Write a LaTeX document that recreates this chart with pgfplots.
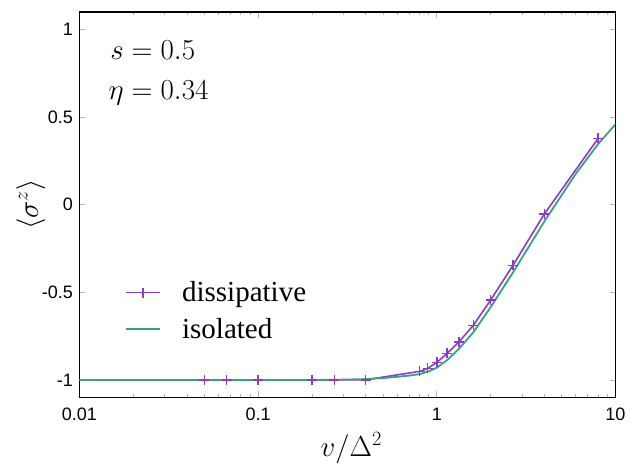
\documentclass[border=0pt]{standalone}
\usepackage{fix-cm}
\usepackage[no-math]{fontspec}
\setmainfont{Liberation Serif}
\newfontfamily\arialfont{Liberation Sans}
\usepackage{pgfplots}
\pgfplotsset{compat=1.18}
\definecolor{dissviolet}{HTML}{8A3CC8}
\definecolor{isogreen}{HTML}{3CA07D}

% dissipative: markers at v = 8/k and a few small v
\pgfplotstableread{
v      sz
0.05   -1.000
0.0667 -1.000
0.1    -1.000
0.2    -1.000
0.2667 -1.000
0.4    -0.999
0.8    -0.951
0.889  -0.934
1.0    -0.900
1.143  -0.848
1.333  -0.782
1.6    -0.688
2.0    -0.544
2.667  -0.346
4.0    -0.052
8.0     0.379
}\dissdata

% isolated
\pgfplotstableread{
v      sz
0.01   -1.000
0.1    -1.000
0.2    -1.000
0.3    -0.998
0.4    -0.995
0.5    -0.989
0.6    -0.982
0.7    -0.975
0.8    -0.967
0.9    -0.951
1.0    -0.930
1.15   -0.884
1.33   -0.822
1.6    -0.728
2.0    -0.585
2.67   -0.386
4.0    -0.095
5.0     0.055
6.0     0.177
8.0     0.347
10.0    0.459
}\isodata

\begin{document}
\begin{tikzpicture}
\begin{axis}[
    xmode=log,
    scale only axis,
    width=536pt, height=385.5pt,
    xmin=0.01, xmax=10,
    ymin=-1.1, ymax=1.1,
    xtick={0.01,0.1,1,10},
    xticklabels={0.01,0.1,1,10},
    minor xtick={0.02,0.03,0.04,0.05,0.06,0.07,0.08,0.09,0.2,0.3,0.4,0.5,0.6,0.7,0.8,0.9,2,3,4,5,6,7,8,9},
    ytick={-1,-0.5,0,0.5,1},
    yticklabels={-1,-0.5,0,0.5,1},
    tick label style={font=\arialfont\fontsize{18}{18}\selectfont, inner sep=0pt},
    yticklabel style={xshift=-6.5pt},
    xticklabel style={yshift=-10.5pt},
    tick align=inside,
    major tick length=6pt,
    minor tick length=3pt,
    tick style={gray!60, line width=0.8pt},
    axis line style={line width=1.3pt},
    xlabel={$v/\Delta^2$},
    ylabel={$\langle\sigma^z\rangle$},
    label style={font=\fontsize{29}{30}\selectfont},
    xlabel style={at={(axis description cs:0.507,-0.152)}, anchor=base},
    ylabel style={at={(axis description cs:-0.0905,0.5)}, anchor=center},
    legend style={at={(rel axis cs:0.0795,0.306)}, anchor=north west,
      draw=none, fill=none, font=\fontsize{29}{30}\selectfont,
      nodes={inner sep=0pt}, column sep=21pt, row sep=15pt},
    legend cell align=left,
    legend image code/.code={\draw[mark repeat=2,mark phase=2,#1] plot coordinates {(0pt,0pt) (17pt,0pt) (34pt,0pt)};},
  ]
  \addplot[color=dissviolet, line width=1.6pt, mark=+, mark size=5pt,
    mark options={line width=1.5pt},
    legend image post style={draw=dissviolet, line width=1.8pt}] table[x=v, y=sz] {\dissdata};
  \addplot[color=isogreen, line width=1.8pt,
    legend image post style={draw=isogreen, line width=1.8pt}] table[x=v, y=sz] {\isodata};
  \legend{dissipative, isolated}
  \node[anchor=base west, inner sep=0pt, font=\fontsize{29}{30}\selectfont]
    at (rel axis cs:0.057,0.8755) {$s=0.5$};
  \node[anchor=base west, inner sep=0pt, font=\fontsize{29}{30}\selectfont]
    at (rel axis cs:0.054,0.772) {$\eta=0.34$};
\end{axis}
\path ([xshift=-79.5pt,yshift=-65.5pt]current axis.south west) rectangle ([xshift=14.5pt,yshift=12pt]current axis.north east);
\end{tikzpicture}
\end{document}
